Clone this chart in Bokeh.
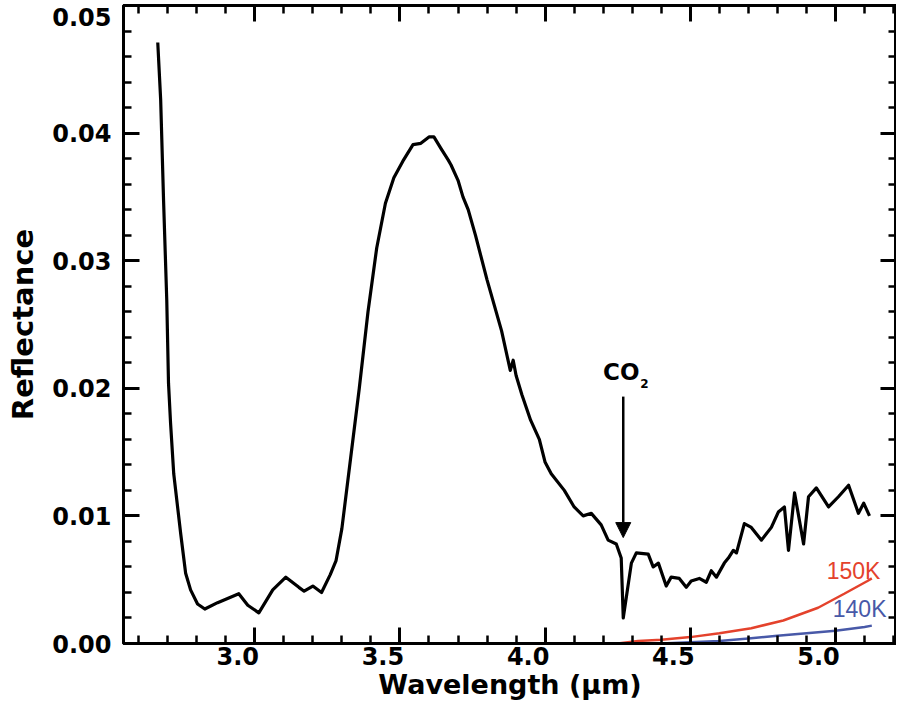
from bokeh.plotting import figure
from bokeh.models import (Range1d, LinearAxis, FixedTicker, Arrow, NormalHead, Label)
from bokeh.embed import file_html
from bokeh.resources import INLINE

# ---- data ----
wavelength = [2.666, 2.676, 2.686, 2.697, 2.703, 2.71, 2.721, 2.745, 2.762, 2.779, 2.803, 2.828,
              2.872, 2.945, 2.976, 3.014, 3.062, 3.107, 3.152, 3.17, 3.2, 3.23, 3.26, 3.28, 3.30,
              3.33, 3.36, 3.39, 3.42, 3.45, 3.479, 3.51, 3.545, 3.572, 3.60, 3.617, 3.641, 3.666,
              3.676, 3.70, 3.717, 3.735, 3.76, 3.80, 3.85, 3.88, 3.89, 3.90, 3.92, 3.95, 3.98,
              4.0, 4.021, 4.066, 4.1, 4.131, 4.159, 4.193, 4.217, 4.245, 4.262, 4.269, 4.297,
              4.314, 4.355, 4.372, 4.39, 4.417, 4.434, 4.462, 4.486, 4.503, 4.531, 4.555, 4.572,
              4.59, 4.617, 4.631, 4.648, 4.659, 4.686, 4.71, 4.745, 4.779, 4.803, 4.824, 4.838,
              4.859, 4.89, 4.907, 4.934, 4.976, 5.01, 5.045, 5.079, 5.097, 5.117]
reflectance = [0.0471, 0.0426, 0.0347, 0.0269, 0.0204, 0.0173, 0.0133, 0.0086, 0.0055, 0.0042,
               0.0031, 0.0027, 0.0032, 0.0039, 0.0030, 0.0024, 0.0042, 0.0052, 0.0044, 0.0041,
               0.0045, 0.0040, 0.0054, 0.0065, 0.0090, 0.0145, 0.0200, 0.0260, 0.0310, 0.0345,
               0.0365, 0.0378, 0.0391, 0.0392, 0.0397, 0.0397, 0.0388, 0.0379, 0.0375, 0.0363,
               0.0350, 0.0340, 0.0320, 0.0285, 0.0245, 0.0214, 0.0222, 0.0210, 0.0195, 0.0175,
               0.0160, 0.0142, 0.0133, 0.0120, 0.0107, 0.0100, 0.0102, 0.0093, 0.0081, 0.0078,
               0.0067, 0.0020, 0.0063, 0.0071, 0.0070, 0.0060, 0.0063, 0.0045, 0.0052, 0.0051,
               0.0044, 0.0049, 0.0051, 0.0048, 0.0057, 0.0052, 0.0063, 0.0067, 0.0073, 0.0071,
               0.0094, 0.0091, 0.0081, 0.0091, 0.0103, 0.0107, 0.0073, 0.0118, 0.0078, 0.0115,
               0.0122, 0.0107, 0.0115, 0.0124, 0.0102, 0.0110, 0.0100]

wl_150K = [4.25, 4.32, 4.4, 4.5, 4.6, 4.71, 4.82, 4.94, 5.03, 5.11, 5.125]
refl_150K = [0.0, 0.0002, 0.0003, 0.0005, 0.0008, 0.0012, 0.0018, 0.0028, 0.0039, 0.0049, 0.0051]
wl_140K = [4.4, 4.5, 4.6, 4.7, 4.8, 4.9, 5.0, 5.1, 5.125]
refl_140K = [0.0, 0.0001, 0.0002, 0.0004, 0.0006, 0.0008, 0.0010, 0.0013, 0.0014]

x_ticks = [3.0, 3.5, 4.0, 4.5, 5.0]
x_tick_labels = ["3.0", "3.5", "4.0", "4.5", "5.0"]
x_minor_ticks = [2.6, 2.7, 2.8, 2.9, 3.1, 3.2, 3.3, 3.4, 3.6, 3.7, 3.8, 3.9,
                 4.1, 4.2, 4.3, 4.4, 4.6, 4.7, 4.8, 4.9, 5.1, 5.2]
y_ticks = [0.00, 0.01, 0.02, 0.03, 0.04, 0.05]
y_tick_labels = ["0.00", "0.01", "0.02", "0.03", "0.04", "0.05"]
y_minor_ticks = [0.002, 0.004, 0.006, 0.008, 0.012, 0.014, 0.016, 0.018,
                 0.022, 0.024, 0.026, 0.028, 0.032, 0.034, 0.036, 0.038,
                 0.042, 0.044, 0.046, 0.048]

co2_wavelength = 4.269
co2_arrow_top, co2_arrow_tip = 0.01935, 0.0083
co2_label_y = 0.0213
label_150K = (5.062, 0.0057)
label_140K = (5.083, 0.0027)

X_START, X_END = 2.548, 5.21
Y_START, Y_END = 0.0, 0.05

W, H = 896, 713
BORDER_L, BORDER_R, BORDER_T, BORDER_B = 123, 0, 5, 70

RED = "#e4422c"
BLUE = "#4859a8"
FONT = "DejaVu Sans"

p = figure(width=W, height=H,
           x_range=Range1d(X_START, X_END), y_range=Range1d(Y_START, Y_END),
           output_backend="svg", toolbar_location=None,
           x_axis_location=None, y_axis_location=None,
           min_border_left=BORDER_L, min_border_right=BORDER_R,
           min_border_top=BORDER_T, min_border_bottom=BORDER_B)
p.xgrid.visible = False
p.ygrid.visible = False
p.outline_line_color = "black"
p.outline_line_width = 3
p.background_fill_color = "white"
p.border_fill_color = "white"

# pixel -> data conversions (used only to place tick labels the way the reference does)
px_x = (X_END - X_START) / (W - BORDER_L - BORDER_R)
px_y = (Y_END - Y_START) / (H - BORDER_T - BORDER_B)


def tick_axis(ticks, minor):
    """axis that draws only the inward tick marks"""
    ax = LinearAxis(ticker=FixedTicker(ticks=ticks, minor_ticks=minor))
    ax.axis_line_width = 3
    ax.axis_line_color = "black"
    ax.major_tick_in = 16
    ax.major_tick_out = 0
    ax.minor_tick_in = 8
    ax.minor_tick_out = 0
    ax.major_tick_line_width = 3
    ax.minor_tick_line_width = 2.5
    ax.major_tick_line_color = "black"
    ax.minor_tick_line_color = "black"
    ax.major_label_text_color = None
    ax.major_label_standoff = 0
    return ax


def label_axis(positions, labels, title, tick_size, title_size, standoff, title_standoff):
    """axis that draws only the tick labels and the axis title"""
    ax = LinearAxis(ticker=FixedTicker(ticks=positions, minor_ticks=[]), axis_label=title)
    ax.major_label_overrides = dict(zip(positions, labels))
    ax.axis_line_color = None
    ax.major_tick_line_color = None
    ax.minor_tick_line_color = None
    ax.major_tick_in = 0
    ax.major_tick_out = 0
    ax.minor_tick_in = 0
    ax.minor_tick_out = 0
    ax.major_label_text_font = FONT
    ax.major_label_text_font_style = "bold"
    ax.major_label_text_font_size = tick_size
    ax.major_label_text_color = "black"
    ax.major_label_standoff = standoff
    ax.axis_label_text_font = FONT
    ax.axis_label_text_font_style = "bold"
    ax.axis_label_text_font_size = title_size
    ax.axis_label_text_color = "black"
    ax.axis_label_standoff = title_standoff
    return ax


# tick marks on all four sides
p.add_layout(tick_axis(x_ticks, x_minor_ticks), "below")
p.add_layout(tick_axis(y_ticks, y_minor_ticks), "left")
p.add_layout(tick_axis(x_ticks, x_minor_ticks), "above")
p.add_layout(tick_axis(y_ticks, y_minor_ticks), "right")

# tick labels: in the reference the x labels sit ~17px left of their ticks,
# and the top y label sits ~12px below the upper edge
x_label_pos = [round(t - 17 * px_x, 6) for t in x_ticks]
y_label_pos = [t if t < Y_END else round(t - 12 * px_y, 6) for t in y_ticks]
p.add_layout(label_axis(x_label_pos, x_tick_labels, "Wavelength (µm)",
                        "24px", "27px", 3, 1), "below")
p.add_layout(label_axis(y_label_pos, y_tick_labels, "Reflectance",
                        "24px", "29px", 12, 9), "left")

# data
p.line(wavelength, reflectance, line_color="black", line_width=3.2, line_join="round")
p.line(wl_150K, refl_150K, line_color=RED, line_width=2.5)
p.line(wl_140K, refl_140K, line_color=BLUE, line_width=2.5)

# annotations
p.add_layout(Arrow(end=NormalHead(size=15, fill_color="black", line_color="black", line_width=1),
                   x_start=co2_wavelength, y_start=co2_arrow_top,
                   x_end=co2_wavelength, y_end=co2_arrow_tip,
                   line_color="black", line_width=2.5))
p.add_layout(Label(x=co2_wavelength, y=co2_label_y, text="CO", text_font=FONT,
                   text_font_style="bold", text_font_size="23px", text_color="black",
                   text_align="center", text_baseline="middle", x_offset=-2))
p.add_layout(Label(x=co2_wavelength, y=co2_label_y, text="2", text_font=FONT,
                   text_font_style="bold", text_font_size="12px", text_color="black",
                   text_align="left", text_baseline="middle", x_offset=17, y_offset=-12))
p.add_layout(Label(x=label_150K[0], y=label_150K[1], text="150K", text_font="Liberation Sans",
                   text_font_size="23px", text_color=RED,
                   text_align="center", text_baseline="middle"))
p.add_layout(Label(x=label_140K[0], y=label_140K[1], text="140K", text_font="Liberation Sans",
                   text_font_size="23px", text_color=BLUE,
                   text_align="center", text_baseline="middle"))

open("out.html", "w").write(file_html(p, INLINE))
